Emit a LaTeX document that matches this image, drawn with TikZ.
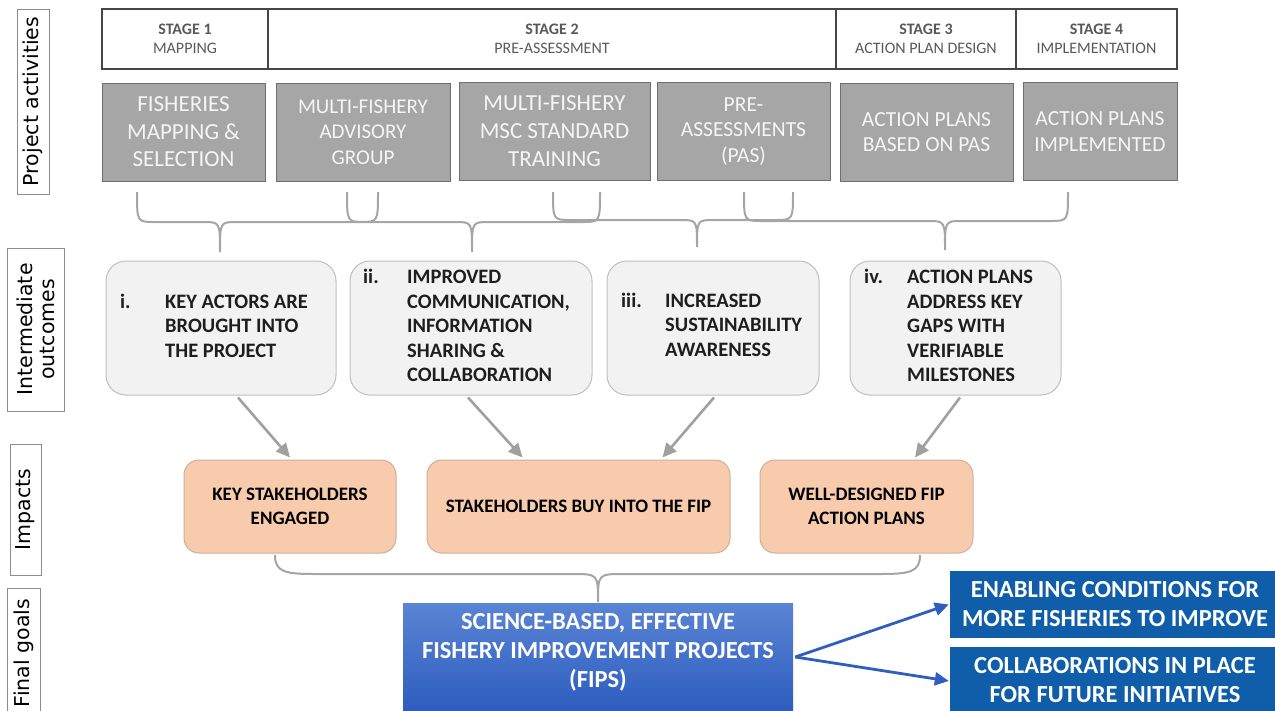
\documentclass[tikz,border=0pt]{standalone}
\usepackage{fontspec}
\setmainfont{Carlito}
\newfontfamily\labelfont{DejaVu Sans}
\usetikzlibrary{arrows.meta,calc}

\definecolor{hdrline}{RGB}{70,70,70}
\definecolor{stagegray}{RGB}{89,89,89}
\definecolor{actfill}{RGB}{166,166,166}
\definecolor{actline}{RGB}{110,110,110}
\definecolor{acttext}{RGB}{245,245,245}
\definecolor{outfill}{RGB}{242,242,242}
\definecolor{outline}{RGB}{190,190,190}
\definecolor{darktext}{RGB}{30,30,30}
\definecolor{impfill}{RGB}{248,203,173}
\definecolor{impline}{RGB}{205,175,155}
\definecolor{bracegray}{RGB}{165,165,165}
\definecolor{arrowgray}{RGB}{160,160,160}
\definecolor{arrowblue}{RGB}{48,94,192}
\definecolor{goaltop}{RGB}{90,132,212}
\definecolor{goalbot}{RGB}{44,92,190}
\definecolor{sideblue}{RGB}{16,94,170}
\definecolor{lblline}{RGB}{140,140,140}

\begin{document}
\begin{tikzpicture}[x=1pt,y=-1pt,
  stagebox/.style={draw=hdrline, line width=1.2pt, minimum height=60pt, inner sep=0pt,
    align=center, text=stagegray, font=\fontsize{16}{19}\selectfont},
  actbox/.style={draw=actline, fill=actfill, line width=1pt, inner sep=0pt, align=center,
    text=acttext, minimum height=98pt},
  outbox/.style={draw=outline, fill=outfill, rounded corners=20pt, line width=1pt,
    minimum height=134pt, inner sep=0pt},
  outtext/.style={anchor=west, inner sep=0pt, text=darktext,
    font=\bfseries\fontsize{20.5}{24.5}\selectfont},
  impbox/.style={draw=impline, fill=impfill, rounded corners=15pt, line width=1pt,
    minimum height=93pt, inner sep=0pt, align=center, text=black,
    font=\bfseries\fontsize{19}{24}\selectfont},
  sidelabel/.style={draw=lblline, line width=0.8pt, rotate=90, inner sep=0pt, align=center,
    text=black, font=\labelfont\fontsize{20.5}{22}\selectfont},
  bracepath/.style={draw=bracegray, line width=2pt},
  grayarrow/.style={draw=arrowgray, line width=2.6pt, -{Triangle[length=14pt,width=13pt]}},
  bluearrow/.style={draw=arrowblue, line width=2.8pt, -{Triangle[length=14pt,width=13pt]}},
  goaltext/.style={text=white, align=center, font=\bfseries\fontsize{24.5}{29}\selectfont},
]
\useasboundingbox (0,0) rectangle (1275,710);

% row labels on the left
\node[sidelabel, minimum width=185pt, minimum height=32pt] (lpa) at (33,101.5) {Project activities};
\node[sidelabel, minimum width=163pt, minimum height=57pt] (lio) at (35.5,329.5) {Intermediate\\outcomes};
\node[sidelabel, minimum width=131pt, minimum height=31pt] (lim) at (25.5,509.5) {Impacts};
\node[sidelabel, minimum width=130pt, minimum height=33pt] (lfg) at (23.5,653) {Final goals};

% stage header
\node[stagebox, minimum width=166pt] (s1) at (185,39) {\textbf{STAGE 1}\\MAPPING};
\node[stagebox, minimum width=568pt] (s2) at (552,39) {\textbf{STAGE 2}\\PRE-ASSESSMENT};
\node[stagebox, minimum width=180pt] (s3) at (926,39) {\textbf{STAGE 3}\\ACTION PLAN DESIGN};
\node[stagebox, minimum width=161pt] (s4) at (1096.5,39) {\textbf{STAGE 4}\\IMPLEMENTATION};

% project activities
\node[actbox, minimum width=163pt, font=\fontsize{23}{27.5}\selectfont] (a1) at (183.5,132) {FISHERIES\\MAPPING \&\\SELECTION};
\node[actbox, minimum width=174pt, font=\fontsize{21}{25.5}\selectfont] (a2) at (363,132) {MULTI-FISHERY\\ADVISORY\\GROUP};
\node[actbox, minimum width=191pt, font=\fontsize{23}{28}\selectfont] (a3) at (554.5,131.5) {MULTI-FISHERY\\MSC STANDARD\\TRAINING};
\node[actbox, minimum width=173pt, font=\fontsize{21.5}{25.5}\selectfont] (a4) at (743.5,131.5) {PRE-\\ASSESSMENTS\\(PAS)};
\node[actbox, minimum width=173pt, font=\fontsize{21.5}{25.5}\selectfont] (a5) at (926.5,132) {ACTION PLANS\\BASED ON PAS};
\node[actbox, minimum width=154pt, font=\fontsize{21.5}{25.5}\selectfont] (a6) at (1100,131.5) {ACTION PLANS\\IMPLEMENTED};

% braces grouping activities into outcomes
\draw[bracepath] (137,192) .. controls (137,222) .. (155,222) -- (203,222)
  .. controls (220,222) .. (220,252) .. controls (220,222) .. (237,222) -- (360,222)
  .. controls (378,222) .. (378,192);
\draw[bracepath] (347,192) .. controls (347,222) .. (365,222) -- (455,222)
  .. controls (472,222) .. (472,252) .. controls (472,222) .. (489,222) -- (582,222)
  .. controls (600,222) .. (600,192);
\draw[bracepath] (553,192) .. controls (553,220) .. (571,220) -- (680,220)
  .. controls (697,220) .. (697,247) .. controls (697,220) .. (714,220) -- (775,220)
  .. controls (793,220) .. (793,192);
\draw[bracepath] (744,192) .. controls (744,221) .. (762,221) -- (928,221)
  .. controls (945,221) .. (945,250) .. controls (945,221) .. (962,221) -- (1050,221)
  .. controls (1068,221) .. (1068,192);

% intermediate outcomes
\node[outbox, minimum width=230pt] (o1) at (221,328) {};
\node[outbox, minimum width=242pt] (o2) at (471,328) {};
\node[outbox, minimum width=212pt] (o3) at (713,328) {};
\node[outbox, minimum width=211pt] (o4) at (955.5,328) {};
\node[outtext] (o1t) at (120,328) {\begin{tabular}{@{}p{45pt}@{}l@{}}i.&KEY ACTORS ARE\\&BROUGHT INTO\\&THE PROJECT\end{tabular}};
\node[outtext] (o2t) at (363,328) {\begin{tabular}{@{}p{44pt}@{}l@{}}ii.&IMPROVED\\&COMMUNICATION,\\&INFORMATION\\&SHARING \&\\&COLLABORATION\end{tabular}};
\node[outtext] (o3t) at (621,327) {\begin{tabular}{@{}p{44pt}@{}l@{}}iii.&INCREASED\\&SUSTAINABILITY\\&AWARENESS\end{tabular}};
\node[outtext] (o4t) at (864,328) {\begin{tabular}{@{}p{43pt}@{}l@{}}iv.&ACTION PLANS\\&ADDRESS KEY\\&GAPS WITH\\&VERIFIABLE\\&MILESTONES\end{tabular}};

% impacts
\node[impbox, minimum width=212pt] (m1) at (290,506.5) {KEY STAKEHOLDERS\\ENGAGED};
\node[impbox, minimum width=303pt] (m2) at (578.5,506.5) {STAKEHOLDERS BUY INTO THE FIP};
\node[impbox, minimum width=213pt] (m3) at (866.5,506.5) {WELL-DESIGNED FIP\\ACTION PLANS};

% outcomes lead to impacts
\draw[grayarrow] ($(o1.south)+(17,2)$) -- ($(m1.north)+(0,-2)$);
\draw[grayarrow] ($(o2.south)+(-3,2)$) -- ($(m2.north)+(-56,-2)$);
\draw[grayarrow] ($(o3.south)+(1,2)$) -- ($(m2.north)+(84,-2)$);
\draw[grayarrow] ($(o4.south)+(4.5,2)$) -- ($(m3.north)+(48.5,-2)$);

% brace joining impacts into the final goal
\draw[bracepath] (275,555) .. controls (275,572) and (285,574) .. (315,574) -- (572,574)
  .. controls (598,574) .. (598,602) .. controls (598,574) .. (624,574) -- (880,574)
  .. controls (910,574) and (920,572) .. (920,555);

% final goals
\node[draw=none, top color=goaltop, bottom color=goalbot, minimum width=390pt,
  minimum height=110pt, inner sep=0pt] (fbox) at (598,658) {};
\node[goaltext] (ftext) at (598,652) {SCIENCE-BASED, EFFECTIVE\\FISHERY IMPROVEMENT PROJECTS\\(FIPS)};

\node[fill=sideblue, minimum width=330pt, minimum height=67pt, inner sep=0pt] (r1) at (1115,604.5) {};
\node[goaltext] (r1t) at (1115,604) {ENABLING CONDITIONS FOR\\MORE FISHERIES TO IMPROVE};
\node[fill=sideblue, minimum width=330pt, minimum height=66pt, inner sep=0pt] (r2) at (1115,680) {};
\node[goaltext] (r2t) at (1115,680) {COLLABORATIONS IN PLACE\\FOR FUTURE INITIATIVES};

\coordinate (fsrc) at ($(fbox.east)+(2,-1)$);
\draw[bluearrow] (fsrc) -- ($(r1.west)+(-1,0)$);
\draw[bluearrow] (fsrc) -- ($(r2.west)+(-1,1)$);
\end{tikzpicture}
\end{document}
